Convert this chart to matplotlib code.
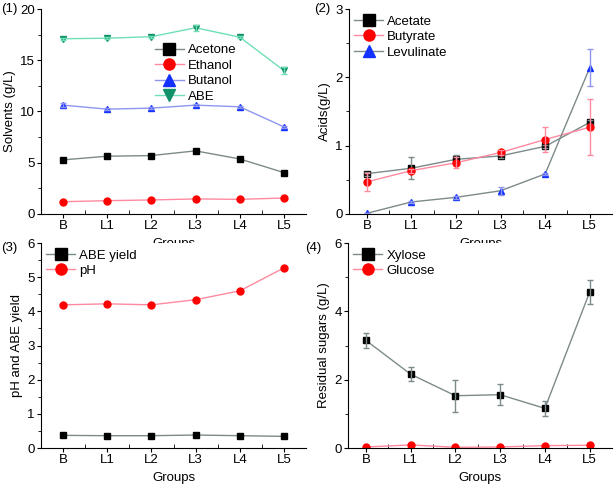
import matplotlib
matplotlib.use("Agg")
import matplotlib.pyplot as plt
import numpy as np

plt.rcParams['font.family'] = ['Liberation Sans', 'DejaVu Sans']

groups = ["B", "L1", "L2", "L3", "L4", "L5"]

# Panel 1: solvents (g/L)
acetone = [5.28, 5.64, 5.70, 6.16, 5.37, 4.04]
ethanol = [1.20, 1.30, 1.37, 1.47, 1.43, 1.56]
butanol = [10.62, 10.23, 10.33, 10.62, 10.46, 8.50]
abe = [17.10, 17.15, 17.30, 18.17, 17.25, 14.00]
abe_err = [0.10, 0.10, 0.10, 0.30, 0.10, 0.30]
butanol_err = [0.20, 0.10, 0.10, 0.10, 0.10, 0.10]

# Panel 2: acids (g/L)
acetate = [0.59, 0.67, 0.80, 0.85, 0.99, 1.34]
acetate_err = [0.03, 0.16, 0.06, 0.03, 0.02, 0.03]
butyrate = [0.47, 0.635, 0.75, 0.90, 1.09, 1.27]
butyrate_err = [0.13, 0.03, 0.08, 0.03, 0.19, 0.41]
levulinate = [0.01, 0.176, 0.244, 0.34, 0.586, 2.14]
levulinate_err = [0.0, 0.02, 0.02, 0.06, 0.02, 0.27]

# Panel 3: pH and ABE yield
abe_yield = [0.37, 0.36, 0.36, 0.38, 0.36, 0.34]
ph = [4.19, 4.22, 4.19, 4.34, 4.60, 5.27]

# Panel 4: residual sugars (g/L)
xylose = [3.15, 2.16, 1.53, 1.56, 1.16, 4.56]
xylose_err = [0.21, 0.21, 0.47, 0.30, 0.23, 0.35]
glucose = [0.03, 0.09, 0.02, 0.03, 0.07, 0.08]

BLACK, GRAYL = "#000000", "#7d8a8a"
RED, PINK = "#ff0000", "#ff8aa0"
BLUE, LBLUE = "#1432ff", "#8e95ee"
GREEN, LGREEN = "#12906a", "#6fe0b4"

fig = plt.figure(figsize=(6.14, 4.86), dpi=100)
W, H = 614, 486

def make_ax(l, t, r, b):
    return fig.add_axes([l / W, 1 - b / H, (r - l) / W, (b - t) / H])

axes = [make_ax(41, 9, 306, 214), make_ax(349, 9, 612, 214),
        make_ax(41, 243, 306, 448), make_ax(348, 243, 612, 448)]

x = np.arange(len(groups))
FS = 9.5

def style(ax, ylim, major, minor, ylabel, xl=(-0.5, 5.5)):
    ax.spines['top'].set_visible(False)
    ax.spines['right'].set_visible(False)
    ax.set_xlim(*xl)
    ax.set_ylim(*ylim)
    ax.set_xticks(x)
    ax.set_xticklabels(groups, fontsize=FS)
    ax.set_xticks(x[:-1] + 0.5, minor=True)
    ax.set_yticks(np.arange(ylim[0], ylim[1] + 1e-9, major))
    ax.set_yticks(np.arange(ylim[0], ylim[1] + 1e-9, minor), minor=True)
    ax.tick_params(axis='both', which='major', direction='out', length=3, pad=1.5, labelsize=FS)
    ax.tick_params(axis='y', which='minor', direction='out', length=2)
    ax.tick_params(axis='x', which='minor', direction='in', length=3)
    ax.set_xlabel("Groups", fontsize=FS, labelpad=4)
    ax.set_ylabel(ylabel, fontsize=FS, labelpad=3)
    ax.yaxis.set_major_formatter(matplotlib.ticker.FormatStrFormatter('%d'))

def series(ax, y, mk, mc, lc, label, err=None, ec=None, ms=5):
    ax.plot(x, y, color=lc, lw=1, marker=mk, ms=ms, mfc=mc, mec=mc, label=label)
    if err is not None:
        ax.errorbar(x, y, yerr=err, fmt='none', ecolor=ec or lc, elinewidth=1, capsize=2.5, capthick=1)

LEG = dict(frameon=False, fontsize=FS, markerscale=1.6, handlelength=2.2,
           handletextpad=0.3, labelspacing=0.25, borderaxespad=0, loc='upper left')

# Panel 1
ax = axes[0]
series(ax, acetone, 's', BLACK, GRAYL, "Acetone")
series(ax, ethanol, 'o', RED, PINK, "Ethanol")
series(ax, butanol, '^', BLUE, LBLUE, "Butanol", butanol_err)
series(ax, abe, 'v', GREEN, LGREEN, "ABE", abe_err)
style(ax, (0, 20), 5, 2.5, "Solvents (g/L)")
ax.legend(bbox_to_anchor=(0.41, 0.855), **LEG)

# Panel 2
ax = axes[1]
series(ax, acetate, 's', BLACK, GRAYL, "Acetate", acetate_err)
series(ax, butyrate, 'o', RED, PINK, "Butyrate", butyrate_err)
series(ax, levulinate, '^', BLUE, GRAYL, "Levulinate", levulinate_err, ec=LBLUE)
style(ax, (0, 3), 1, 0.5, "Acids(g/L)", xl=(-0.4, 5.5))
ax.legend(bbox_to_anchor=(0.0, 0.995), **LEG)

# Panel 3
ax = axes[2]
series(ax, abe_yield, 's', BLACK, GRAYL, "ABE yield")
series(ax, ph, 'o', RED, PINK, "pH")
style(ax, (0, 6), 1, 0.5, "pH and ABE yield")
ax.legend(bbox_to_anchor=(0.0, 0.995), **LEG)

# Panel 4
ax = axes[3]
series(ax, xylose, 's', BLACK, GRAYL, "Xylose", xylose_err)
series(ax, glucose, 'o', RED, PINK, "Glucose")
style(ax, (0, 6), 2, 1, "Residual sugars (g/L)", xl=(-0.4, 5.5))
ax.legend(bbox_to_anchor=(0.0, 0.995), **LEG)

label_pos = [(1, 9), (314, 9), (1, 248), (305, 248)]
for i, (px, py) in enumerate(label_pos):
    fig.text(px / W, 1 - py / H, f"({i+1})", fontsize=FS, ha='left', va='center')

fig.savefig("out.png", dpi=100)
